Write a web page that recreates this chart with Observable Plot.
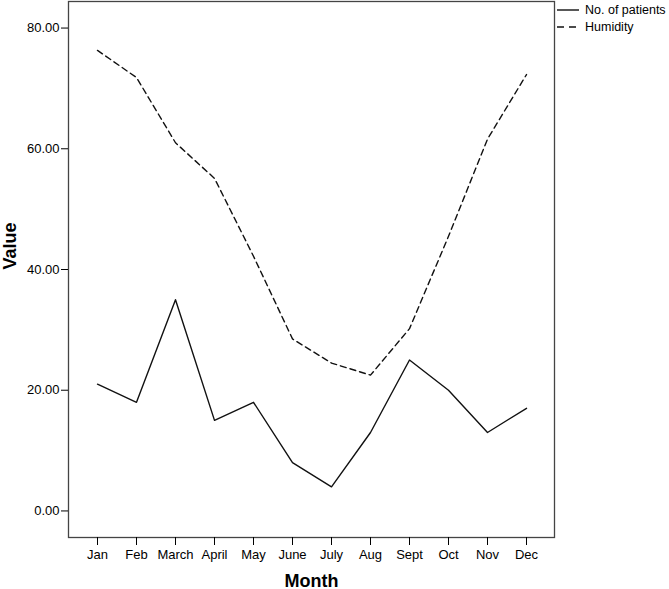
<!DOCTYPE html>
<html>
<head>
<meta charset="utf-8">
<script src="https://cdn.jsdelivr.net/npm/d3@7"></script>
<script src="https://cdn.jsdelivr.net/npm/@observablehq/plot@0.6"></script>
<style>
  html, body { margin: 0; padding: 0; background: #fff; }
  #wrap { position: relative; width: 669px; height: 589px; font-family: "Liberation Sans", Arial, sans-serif; }
  #legend { position: absolute; left: 557px; top: 1px; width: 112px; font-size: 12.5px; color: #000; white-space: nowrap; }
  #legend div { display: flex; align-items: center; height: 17px; white-space: nowrap; }
  #legend svg { margin-right: 6px; flex: none; }
</style>
</head>
<body>
<div id="wrap"></div>
<script>
const months = ["Jan","Feb","March","April","May","June","July","Aug","Sept","Oct","Nov","Dec"];
const patients = [21, 18, 35, 15, 18, 8, 4, 13, 25, 20, 13, 17];
const humidity = [76.3, 71.8, 61.0, 55.1, 42.2, 28.5, 24.5, 22.5, 30.2, 45.5, 61.6, 72.3];
const yTicks = [0, 20, 40, 60, 80];
const seriesNames = ["No. of patients", "Humidity"];
const titles = ["Month", "Value"];

const pData = months.map((m, i) => ({month: m, value: patients[i]}));
const hData = months.map((m, i) => ({month: m, value: humidity[i]}));

const chart = Plot.plot({
  width: 669,
  height: 589,
  marginLeft: 68,
  marginRight: 115,
  marginTop: 1,
  marginBottom: 52,
  style: {fontFamily: "'Liberation Sans', Arial, sans-serif", fontSize: "13px", color: "#000", background: "#fff"},
  x: {type: "point", domain: months, padding: 0.62},
  y: {domain: [-4.4, 84.4]},
  marks: [
    Plot.frame({stroke: "#444", strokeWidth: 1.3}),
    Plot.axisX({tickSize: 8, tickPadding: 4, fontSize: 13, label: null, stroke: "#000"}),
    Plot.axisY({ticks: yTicks, tickSize: 7, tickPadding: 2, fontSize: 13, tickFormat: d3.format(".2f"), label: null, stroke: "#000"}),
    Plot.line(pData, {x: "month", y: "value", stroke: "#111", strokeWidth: 1.4}),
    Plot.line(hData, {x: "month", y: "value", stroke: "#111", strokeWidth: 1.4, strokeDasharray: "6,4"}),
    Plot.text([titles[0]], {frameAnchor: "bottom", dy: 49, fontSize: 18, fontWeight: "bold", text: d => d}),
    Plot.text([titles[1]], {frameAnchor: "left", dx: -58, rotate: -90, fontSize: 18, fontWeight: "bold", text: d => d})
  ]
});
document.getElementById("wrap").appendChild(chart);

const legend = document.createElement("div");
legend.id = "legend";
legend.innerHTML = seriesNames.map((n, i) =>
  `<div><svg width="22" height="4"><line x1="0" x2="22" y1="2" y2="2" stroke="#111" stroke-width="1.4" ${i ? 'stroke-dasharray="7,5"' : ''}/></svg><span>${n}</span></div>`
).join("");
document.getElementById("wrap").appendChild(legend);
</script>
</body>
</html>
